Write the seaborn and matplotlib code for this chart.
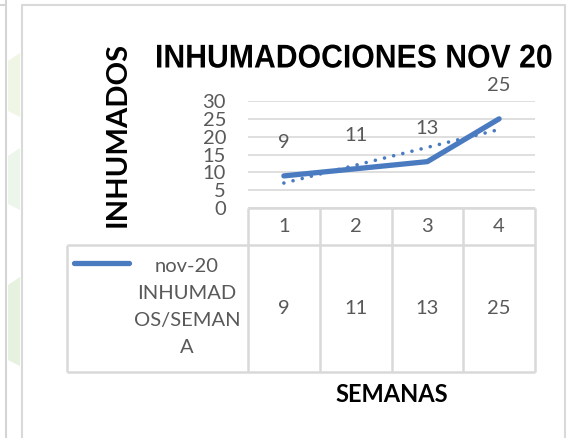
import matplotlib
matplotlib.use("Agg")
import matplotlib.pyplot as plt
import matplotlib.transforms as mtransforms
from matplotlib import patheffects
import seaborn as sns
import pandas as pd
import numpy as np

# ---------------- data ----------------
weeks = [1, 2, 3, 4]
week_labels = ["1", "2", "3", "4"]
inhumados = [9, 11, 13, 25]
series_label = "nov-20\nINHUMAD\nOS/SEMAN\nA"
title = "INHUMADOCIONES NOV 20"
y_title = "INHUMADOS"
x_title = "SEMANAS"
y_ticks = [0, 5, 10, 15, 20, 25, 30]

df = pd.DataFrame({"semana": weeks, "inhumados": inhumados})

# ---------------- style ----------------
sns.set_theme(style="white")
plt.rcParams["font.family"] = ["Lato", "DejaVu Sans"]

W, H = 575, 438
DPI = 100
BLUE = "#4a7bc0"
GREY_TXT = "#595959"
GRID = "#d9d9d9"
PX = 72 / DPI  # points per pixel


class HScale(patheffects.AbstractPathEffect):
    """Draw text squeezed horizontally around a display x position (narrow font look)."""

    def __init__(self, sx, cx):
        super().__init__()
        self.sx, self.cx = sx, cx

    def draw_path(self, renderer, gc, tpath, affine, rgbFace=None):
        a = affine + mtransforms.Affine2D().translate(-self.cx, 0).scale(self.sx, 1).translate(self.cx, 0)
        renderer.draw_path(gc, tpath, a, rgbFace)


fig = plt.figure(figsize=(W / DPI, H / DPI), dpi=DPI)
fig.patch.set_facecolor("white")

bg = fig.add_axes([0, 0, 1, 1])
bg.set_xlim(0, W)
bg.set_ylim(H, 0)
bg.axis("off")

# faint page decorations on the left
for (y0, y1, c) in [(53, 117, "#f0f6e6"), (148, 210, "#edf6ea"), (277, 366, "#e6f1df")]:
    bg.fill([8, 20, 20, 8], [y0 + 8, y0, y1, y1 - 6], color=c, lw=0, zorder=0)
bg.plot([6, 6], [0, H], color="#d4d4d4", lw=1.5, zorder=1)
bg.plot([0, 6], [5, 5], color="#d4d4d4", lw=1.5, zorder=1)
bg.plot([22, 22, 565, 565], [H + 5, 5, 5, H + 5], color="#d9d9d9", lw=1.5, zorder=1)

# ---------------- main plot axes ----------------
x0p, x1p, ytop, ybot = 248, 535, 101, 208
ax = fig.add_axes([x0p / W, 1 - ybot / H, (x1p - x0p) / W, (ybot - ytop) / H])
ax.set_facecolor("none")
ax.set_xlim(0.5, 4.5)
ax.set_ylim(0, 30)

for v in y_ticks:
    ax.axhline(v, color=GRID, lw=1.2, zorder=0)

sns.regplot(data=df, x="semana", y="inhumados", ax=ax, scatter=False, ci=None,
            truncate=True,
            line_kws=dict(color=BLUE, lw=2.6, linestyle=(0, (0.01, 2.6)),
                          dash_capstyle="round", zorder=3))
sns.lineplot(data=df, x="semana", y="inhumados", ax=ax, color=BLUE, lw=3.8,
             solid_capstyle="round", solid_joinstyle="round", zorder=4)

for x, v in zip(weeks, inhumados):
    ax.annotate(str(v), (x, v), xytext=(0, 33 * PX), textcoords="offset points",
                ha="center", va="center", fontsize=14.5, color=GREY_TXT)

ax.set_yticks(y_ticks)
ax.set_yticklabels([str(t) for t in y_ticks], fontsize=14.5, color=GREY_TXT)
ax.tick_params(axis="y", length=0, pad=22 * PX)
ax.set_xticks([])
ax.set_xlabel("")
ax.set_ylabel("")
for s in ax.spines.values():
    s.set_visible(False)

# ---------------- data table ----------------
tr = mtransforms.blended_transform_factory(ax.transData, bg.transData)
row1_top, row1_bot, row2_bot = 208, 245, 372
leg_left = 67
col_edges = [0.5, 1.5, 2.5, 3.5, 4.5]
tkw = dict(color=GRID, lw=1.8, solid_capstyle="butt", clip_on=False, zorder=2)
for e in col_edges:
    bg.plot([e, e], [row1_top, row2_bot], transform=tr, **tkw)
bg.plot([0.5, 4.5], [row1_top, row1_top], transform=tr, **tkw)
bg.plot([leg_left, x1p], [row1_bot, row1_bot], **tkw)
bg.plot([leg_left, x1p], [row2_bot, row2_bot], **tkw)
bg.plot([leg_left, leg_left], [row1_bot, row2_bot], **tkw)

for x, lab, v in zip(weeks, week_labels, inhumados):
    bg.text(x, 227, lab, transform=tr, ha="center", va="center",
            fontsize=14.5, color=GREY_TXT)
    bg.text(x, 309, str(v), transform=tr, ha="center", va="center",
            fontsize=14.5, color=GREY_TXT)

bg.plot([74, 129], [263, 263], color=BLUE, lw=3.8, solid_capstyle="round", zorder=3)
bg.text(187, 307, series_label, ha="center", va="center", multialignment="center",
        fontsize=14.5, color=GREY_TXT, linespacing=1.73)

# ---------------- titles ----------------
title_cx = 354
t = bg.text(title_cx, 67.5, title, ha="center", va="baseline", color="black",
            fontsize=32, fontweight="bold", family=["Liberation Sans", "DejaVu Sans"])
fig.canvas.draw()
w0 = t.get_window_extent().width
t.set_fontsize(32 * 434 / w0)   # keep the text box clear of the y title and the edge
fig.canvas.draw()
w1 = t.get_window_extent().width
t.set_path_effects([HScale(398 / w1, title_cx)])  # narrow, as in the reference

bg.text(118, 134, y_title, rotation=90, ha="center", va="center", fontsize=21,
        fontweight="bold", color="black")
bg.text(392, 402, x_title, ha="center", va="baseline", fontsize=17,
        fontweight="bold", color="black")

fig.savefig("out.png", dpi=DPI, facecolor="white")
